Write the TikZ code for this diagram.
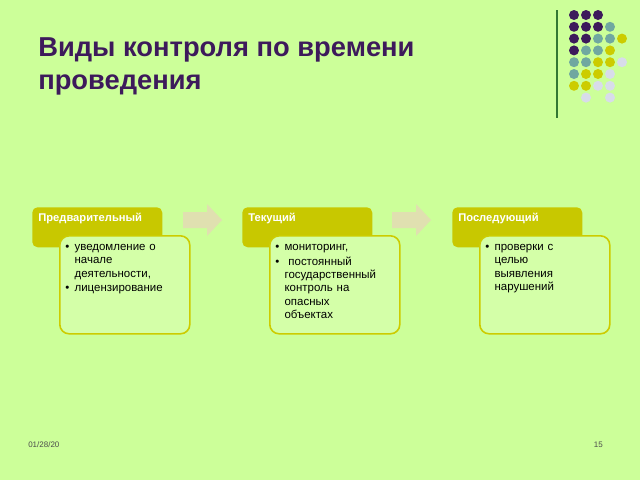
\documentclass[tikz,border=0pt]{standalone}
\usepackage{fontspec}
\setmainfont{Liberation Sans}
\definecolor{bg}{HTML}{CCFF99}
\definecolor{pur}{HTML}{3D1A5B}
\definecolor{teal}{HTML}{70A8A0}
\definecolor{yel}{HTML}{CCCC00}
\definecolor{lil}{HTML}{D8DCEA}
\definecolor{hdr}{HTML}{C8C800}
\definecolor{arr}{HTML}{E0E0B0}
\tikzset{
 hdrbox/.style={fill=hdr,rounded corners=4pt,minimum width=97.5pt,minimum height=30pt,anchor=north west,inner sep=0pt},
 hdrtxt/.style={text=white,font=\fontsize{8.4}{9}\selectfont\bfseries,anchor=north west,inner sep=0pt},
 cbox/.style={draw=yel,line width=1.2pt,fill=bg!85!white,rounded corners=7pt,minimum width=97.5pt,minimum height=73.5pt,anchor=north west,inner sep=0pt},
 ctxt/.style={font=\fontsize{8.6}{10}\selectfont,anchor=north west,inner sep=0pt,align=left,text width=88pt},
 dot/.style={circle,minimum size=7.5pt,inner sep=0pt},
 arrw/.style={fill=arr,draw=none}
}
\newcommand{\bul}{\makebox[7pt][l]{\textbullet}}
\begin{document}
\begin{tikzpicture}[x=0.75pt,y=-0.75pt]
\fill[bg] (0,0) rectangle (640,480);
\useasboundingbox (0,0) rectangle (640,480);
\node[anchor=north west,inner sep=0pt,text=pur,font=\fontsize{20.5}{25}\selectfont\bfseries,align=left] (title) at (38,37) {Виды контроля по времени\\проведения};
\draw[line width=1.2pt,color=black!55!green!60!gray] (557,10) coordinate (l1) -- (557,118) coordinate (l2);
% dots
\foreach \r/\cols in {0/{0/pur,1/pur,2/pur},1/{0/pur,1/pur,2/pur,3/teal},2/{0/pur,1/pur,2/teal,3/teal,4/yel},3/{0/pur,1/teal,2/teal,3/yel},4/{0/teal,1/teal,2/yel,3/yel,4/lil},5/{0/teal,1/yel,2/yel,3/lil},6/{0/yel,1/yel,2/lil,3/lil},7/{1/lil,3/lil}}{
 \foreach \c/\col in \cols { \node[dot,fill=\col] (d\r\c) at (574+12*\c,15+11.8*\r) {}; }
}
% columns
\foreach \i/\x/\h/\t in {1/32/Предварительный/{\bul уведомление о\\\hspace*{7pt}начале\\\hspace*{7pt}деятельности,\\[1pt]\bul лицензирование},
 2/242/Текущий/{\bul мониторинг,\\[1pt]\bul\ постоянный\\\hspace*{7pt}государственный\\\hspace*{7pt}контроль на\\\hspace*{7pt}опасных\\\hspace*{7pt}объектах},
 3/452/Последующий/{\bul проверки с\\\hspace*{7pt}целью\\\hspace*{7pt}выявления\\\hspace*{7pt}нарушений}}{
 \node[hdrbox] (h\i) at (\x,207) {};
 \node[hdrtxt] (ht\i) at (\x+6,213) {\h};
 \node[cbox] (c\i) at (\x+27,235) {};
 \begin{scope}
 \clip[rounded corners=7pt] (\x+28,236) rectangle (\x+157,332);
 \node[ctxt] (ct\i) at (\x+33,244) {\t};
 \end{scope}
}
\foreach \i/\x in {1/183,2/392}{
 \fill[arrw] (\x,212) -- (\x+24,212) -- (\x+24,204) -- (\x+39,220) -- (\x+24,236) -- (\x+24,228) -- (\x,228) -- cycle;
}
\node[anchor=west,inner sep=0pt,font=\fontsize{6}{7}\selectfont,text=black!70] (date) at (28,445) {01/28/20};
\node[anchor=east,inner sep=0pt,font=\fontsize{6}{7}\selectfont,text=black!70] (pg) at (603,445) {15};
\end{tikzpicture}
\end{document}
